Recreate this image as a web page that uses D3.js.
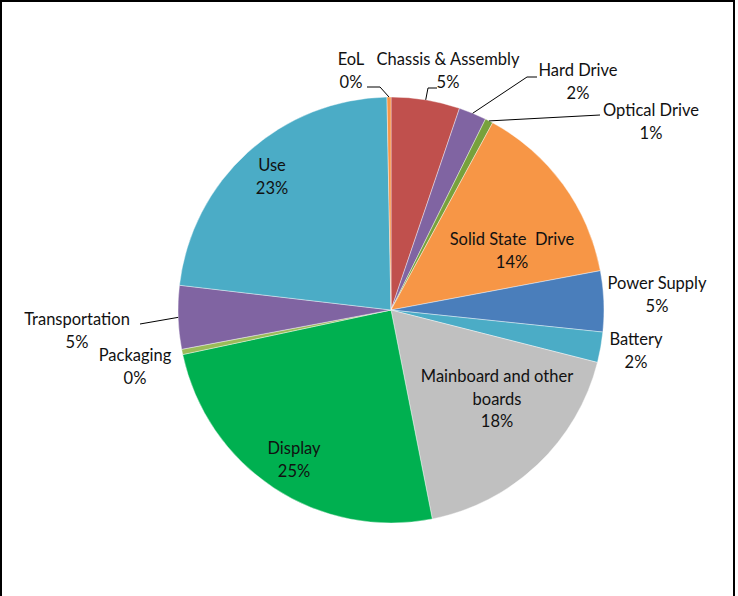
<!DOCTYPE html>
<html lang="en">
<head>
    <meta charset="UTF-8">
    <title>Pie</title>
    <script src="https://d3js.org/d3.v7.min.js"></script>
    <style>
        body {margin: 0;}
        svg {display: block;}
    </style>
</head>
<body>
<script>
    const width = 738;
    const height = 596;

    // data (clockwise from 12 o'clock)
    const categories = ["Chassis & Assembly", "Hard Drive", "Optical Drive", "Solid State  Drive",
        "Power Supply", "Battery", "Mainboard and other boards", "Display", "Packaging",
        "Transportation", "Use", "EoL"];
    const shares = [5.2, 2.1, 0.6, 14.1, 4.6, 2.3, 17.9, 24.7, 0.4, 4.8, 22.8, 0.3];
    const colors = ["#C0504D", "#8064A2", "#77A13C", "#F79646", "#4A7EBB", "#4BACC6",
        "#C0C0C0", "#00B050", "#9BBB59", "#8064A2", "#4BACC6", "#F79646"];

    // label layout: [x, y of first line, text lines, leader end]
    const labelLayout = {
        "Chassis & Assembly":        {x: 448, y: 65, lines: ["Chassis & Assembly"], leader: [[428, 88], [437, 88]]},
        "Hard Drive":                {x: 578, y: 76, lines: ["Hard Drive"], leader: [[527, 77], [537, 77]]},
        "Optical Drive":             {x: 651, y: 116, lines: ["Optical Drive"], leader: [[600, 115]]},
        "Solid State  Drive":        {x: 512, y: 245, lines: ["Solid State  Drive"]},
        "Power Supply":              {x: 657, y: 289, lines: ["Power Supply"]},
        "Battery":                   {x: 636, y: 345, lines: ["Battery"]},
        "Mainboard and other boards":{x: 497, y: 382, lines: ["Mainboard and other", "boards"]},
        "Display":                   {x: 294, y: 454, lines: ["Display"]},
        "Packaging":                 {x: 135, y: 361, lines: ["Packaging"]},
        "Transportation":            {x: 77,  y: 325, lines: ["Transportation"], leader: [[140, 324]]},
        "Use":                       {x: 272, y: 171, lines: ["Use"]},
        "EoL":                       {x: 351, y: 65, lines: ["EoL"], leader: [[380, 87], [367, 87]]}
    };

    const cx = 391, cy = 310, radius = 213;

    const svg = d3.select("body").append("svg")
            .attr("width", width).attr("height", height);

    svg.append("rect")
            .attr("x", 1).attr("y", 1)
            .attr("width", 733).attr("height", height + 10)
            .style("fill", "white")
            .style("stroke", "black")
            .style("stroke-width", 2);

    const data = categories.map((c, i) => ({name: c, value: shares[i], color: colors[i]}));
    const total = d3.sum(shares);

    const pie = d3.pie().sort(null).value(d => d.value);
    const arc = d3.arc().innerRadius(0).outerRadius(radius);

    const g = svg.append("g").attr("transform", `translate(${cx},${cy})`);

    const arcs = pie(data);

    g.selectAll("path.slice")
            .data(arcs)
            .enter()
            .append("path")
            .attr("class", "slice")
            .attr("d", arc)
            .style("fill", d => d.data.color)
            .style("stroke", "white")
            .style("stroke-width", 0.4);

    // leader lines
    arcs.forEach(function(d) {
        const lay = labelLayout[d.data.name];
        if (!lay.leader) return;
        const mid = (d.startAngle + d.endAngle) / 2;
        const start = [cx + radius * Math.sin(mid), cy - radius * Math.cos(mid)];
        svg.append("path")
                .datum([start].concat(lay.leader))
                .attr("d", d3.line())
                .style("fill", "none")
                .style("stroke", "black")
                .style("stroke-width", 1);
    });

    // labels
    arcs.forEach(function(d) {
        const lay = labelLayout[d.data.name];
        const pct = Math.round(d.data.value / total * 100) + "%";
        const lines = lay.lines.concat([pct]);
        const t = svg.append("text")
                .attr("text-anchor", "middle")
                .style("font-family", "Lato, sans-serif")
                .style("font-size", "16.5px")
                .style("white-space", "pre")
                .style("fill", "#111");
        lines.forEach((l, i) => {
            t.append("tspan")
                    .attr("x", lay.x)
                    .attr("y", lay.y + i * 22.5)
                    .text(l);
        });
    });
</script>
</body>
</html>
